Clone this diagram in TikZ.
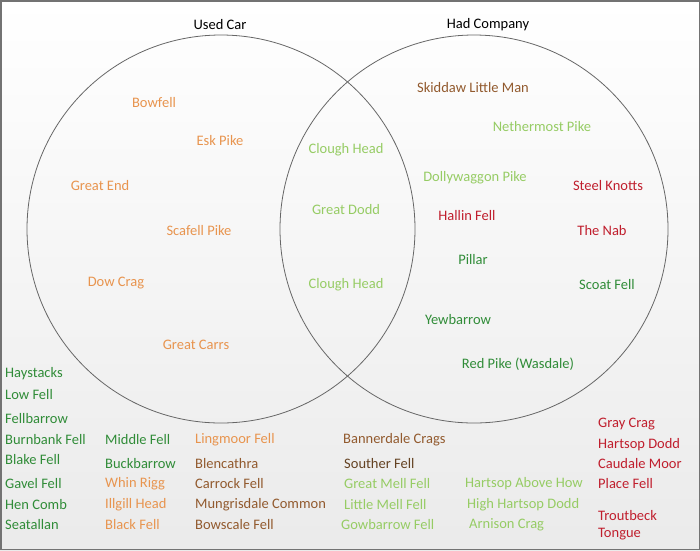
\documentclass[tikz,border=0pt]{standalone}
\usepackage{fontspec}
\setmainfont{Carlito}
\usetikzlibrary{positioning}
\definecolor{carorange}{RGB}{232,148,78}
\definecolor{lightgrn}{RGB}{150,204,100}
\definecolor{darkgrn}{RGB}{48,140,56}
\definecolor{fellbrown}{RGB}{146,90,46}
\definecolor{darkbrown}{RGB}{100,66,34}
\definecolor{fellred}{RGB}{192,30,45}
\tikzset{
  fell/.style={inner sep=0pt, yshift=-1.5pt, font=\fontsize{14.5}{17}\selectfont},
  uc/.style={fell, text=carorange},
  lg/.style={fell, text=lightgrn},
  dg/.style={fell, text=darkgrn},
  br/.style={fell, text=fellbrown},
  db/.style={fell, text=darkbrown},
  rd/.style={fell, text=fellred},
  title/.style={fell, text=black},
  ring/.style={draw=black!60, line width=0.8pt}
}
\begin{document}
\begin{tikzpicture}[x=1pt, y=-1pt]
		\useasboundingbox (0,0) rectangle (700,550);
		\shade[top color=white, bottom color=black!8] (0,0) rectangle (700,550);
		\draw[black!55, line width=1.5pt] (0.75,0.75) rectangle (699.25,549.25);
		\draw[ring] (221,229) circle[radius=194pt];
		\draw[ring] (474,229) circle[radius=194pt];
		\node[title] (usedcar) at (220,23) {Used Car};
		\node[title] (hadcompany) at (488,23) {Had Company};
		\node[uc] (bowfell) at (154,101) {Bowfell};
		\node[uc] (eskpike) at (220,139) {Esk Pike};
		\node[uc] (greatend) at (100,184) {Great End};
		\node[uc] (scafell) at (199,229) {Scafell Pike};
		\node[uc] (dowcrag) at (116,282) {Dow Crag};
		\node[uc] (greatcarrs) at (196,343) {Great Carrs};
		\node[lg] (cloughtop) at (346,148) {Clough Head};
		\node[lg] (greatdodd) at (346,208) {Great Dodd};
		\node[lg] (cloughlow) at (346,283) {Clough Head};
		\node[br] (skiddaw) at (473,86) {Skiddaw Little Man};
		\node[lg] (nethermost) at (542,125) {Nethermost Pike};
		\node[lg] (dollywaggon) at (475,176) {Dollywaggon Pike};
		\node[rd] (steelknotts) at (608,184) {Steel Knotts};
		\node[rd] (hallin) at (467,214) {Hallin Fell};
		\node[rd] (thenab) at (602,229) {The Nab};
		\node[dg] (pillar) at (473,258) {Pillar};
		\node[dg] (scoat) at (607,283) {Scoat Fell};
		\node[dg] (yewbarrow) at (458,318) {Yewbarrow};
		\node[dg] (redpike) at (518,363) {Red Pike (Wasdale)};
		\node[dg, anchor=west] (haystacks) at (5,372) {Haystacks};
		\node[dg, anchor=west] (lowfell) at (5,393) {Low Fell};
		\node[dg, anchor=west] (fellbarrow) at (5,417) {Fellbarrow};
		\node[dg, anchor=west] (burnbank) at (5,438) {Burnbank Fell};
		\node[dg, anchor=west] (blake) at (5,458) {Blake Fell};
		\node[dg, anchor=west] (gavel) at (5,482) {Gavel Fell};
		\node[dg, anchor=west] (hencomb) at (5,503) {Hen Comb};
		\node[dg, anchor=west] (seatallan) at (5,523) {Seatallan};
		\node[dg, anchor=west] (middlefell) at (105,438) {Middle Fell};
		\node[dg, anchor=west] (buckbarrow) at (105,462) {Buckbarrow};
		\node[uc, anchor=west] (whinrigg) at (105,482) {Whin Rigg};
		\node[uc, anchor=west] (illgill) at (105,503) {Illgill Head};
		\node[uc, anchor=west] (blackfell) at (105,523) {Black Fell};
		\node[uc, anchor=west] (lingmoor) at (195,438) {Lingmoor Fell};
		\node[br, anchor=west] (blencathra) at (195,462) {Blencathra};
		\node[br, anchor=west] (carrock) at (195,482) {Carrock Fell};
		\node[br, anchor=west] (mungrisdale) at (195,503) {Mungrisdale Common};
		\node[br, anchor=west] (bowscale) at (195,523) {Bowscale Fell};
		\node[br, anchor=west] (bannerdale) at (343,438) {Bannerdale Crags};
		\node[db, anchor=west] (souther) at (344,462) {Souther Fell};
		\node[lg, anchor=west] (greatmell) at (344,482) {Great Mell Fell};
		\node[lg, anchor=west] (littlemell) at (344,503) {Little Mell Fell};
		\node[lg, anchor=west] (gowbarrow) at (341,523) {Gowbarrow Fell};
		\node[lg, anchor=west] (hartsopabove) at (465,482) {Hartsop Above How};
		\node[lg, anchor=west] (highhartsop) at (467,503) {High Hartsop Dodd};
		\node[lg, anchor=west] (arnison) at (469,523) {Arnison Crag};
		\node[rd, anchor=west] (graycrag) at (598,423) {Gray Crag};
		\node[rd, anchor=west] (hartsopdodd) at (598,443) {Hartsop Dodd};
		\node[rd, anchor=west] (caudale) at (598,462) {Caudale Moor};
		\node[rd, anchor=west] (placefell) at (598,482) {Place Fell};
		\node[rd, anchor=west, align=left] (troutbeck) at (598,523.5) {Troutbeck\\Tongue};
		\end{tikzpicture}
\end{document}
